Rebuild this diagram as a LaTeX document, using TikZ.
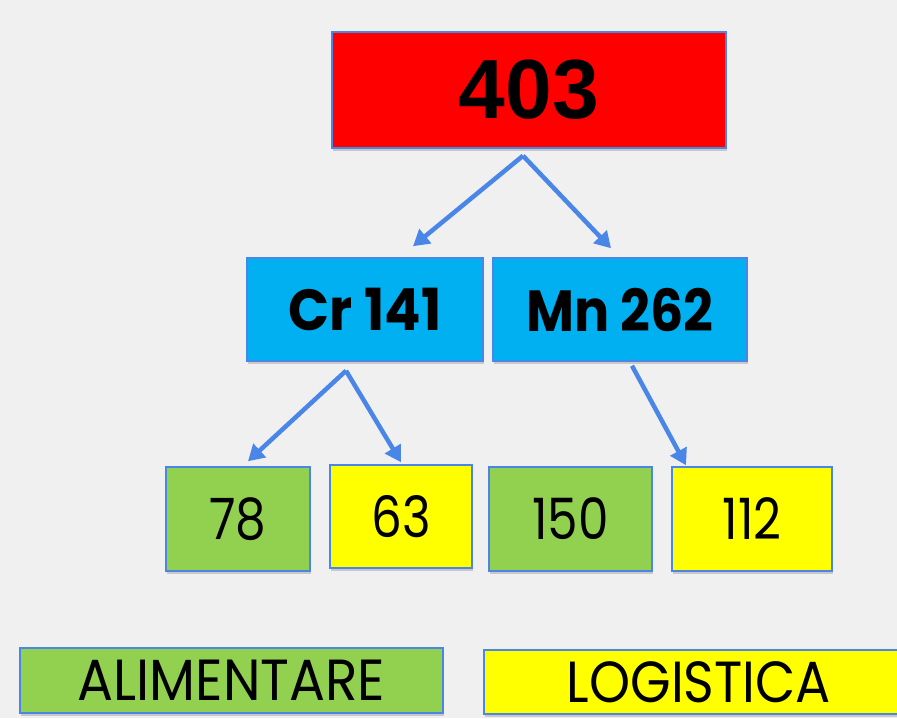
\documentclass[tikz,border=0pt]{standalone}
\usepackage{fontspec}
\setmainfont{Liberation Sans}
\newfontfamily\gothic{Poppins}
\usetikzlibrary{arrows.meta,shadows}
\definecolor{bg}{HTML}{F0F0F0}
\definecolor{edge}{HTML}{4A86E8}
\definecolor{redbox}{HTML}{FF0000}
\definecolor{cyanbox}{HTML}{00B0F0}
\definecolor{greenbox}{HTML}{92D050}
\definecolor{yellowbox}{HTML}{FFFF00}
\tikzset{
  box/.style={draw=edge, line width=1.5pt, rectangle, inner sep=0pt, text=black,
    drop shadow={opacity=0.35, shadow xshift=1pt, shadow yshift=-3pt}},
  arr/.style={draw=edge, line width=4.5pt, -{Triangle[length=16pt,width=18pt]}},
}
\begin{document}
\begin{tikzpicture}[x=1pt,y=-1pt]
\fill[bg] (0,0) rectangle (897,718);
\useasboundingbox (0,0) rectangle (897,718);
\node[box, fill=redbox, minimum width=394pt, minimum height=116pt] (top) at (529,90)
  {\fontsize{84}{84}\selectfont\bfseries 403};
\node[box, fill=cyanbox, minimum width=236pt, minimum height=103pt] (cr) at (365,309.5)
  {\scalebox{0.93}[1]{\gothic\fontsize{58}{58}\selectfont\bfseries Cr 141}};
\node[box, fill=cyanbox, minimum width=254pt, minimum height=103pt] (mn) at (620,309.5)
  {\scalebox{0.9}[1]{\gothic\fontsize{58}{58}\selectfont\bfseries Mn 262}};
\node[box, fill=greenbox, minimum width=144pt, minimum height=104pt] (a) at (238,519)
  {\scalebox{0.85}[1]{\gothic\fontsize{57}{57}\selectfont 78}};
\node[box, fill=yellowbox, minimum width=142pt, minimum height=103pt] (b) at (401,516.5)
  {\scalebox{0.85}[1]{\gothic\fontsize{57}{57}\selectfont 63}};
\node[box, fill=greenbox, minimum width=163pt, minimum height=104pt] (c) at (570.5,519)
  {\scalebox{0.85}[1]{\gothic\fontsize{57}{57}\selectfont 150}};
\node[box, fill=yellowbox, minimum width=160pt, minimum height=104pt] (d) at (752,519)
  {\scalebox{0.85}[1]{\gothic\fontsize{57}{57}\selectfont 112}};
\node[box, fill=greenbox, minimum width=423pt, minimum height=65pt] (alim) at (231.5,680.5)
  {\scalebox{0.92}[1]{\gothic\fontsize{58}{58}\selectfont ALIMENTARE}};
\node[box, fill=yellowbox, minimum width=430pt, minimum height=64pt] (logi) at (699,682)
  {\scalebox{0.9}[1]{\gothic\fontsize{58}{58}\selectfont LOGISTICA}};
\draw[arr] ([shift={(-6,7)}]top.south) -- ([shift={(48,-11)}]cr.north);
\draw[arr] ([shift={(-6,7)}]top.south) -- ([shift={(-9,-9)}]mn.north);
\draw[arr] ([shift={(-19,9)}]cr.south) -- ([shift={(10,-5)}]a.north);
\draw[arr] ([shift={(-19,9)}]cr.south) -- ([shift={(0,-2)}]b.north);
\draw[arr] ([shift={(12,4)}]mn.south) -- ([shift={(-66,-1)}]d.north);
\end{tikzpicture}
\end{document}
